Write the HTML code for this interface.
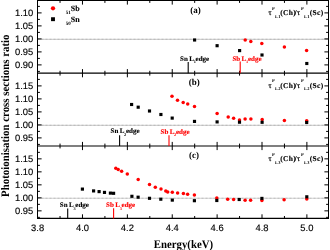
<!DOCTYPE html><html><head><meta charset="utf-8"><style>
.tl{font-family:"Liberation Sans",sans-serif;font-size:9.4px;fill:#000;stroke:#000;stroke-width:0.15px;}
.at{font-family:"Liberation Serif",serif;font-weight:bold;font-size:11px;fill:#000;}
.pl{font-family:"Liberation Serif",serif;font-weight:bold;font-size:9px;fill:#000;}
.leg{font-family:"Liberation Serif",serif;font-weight:bold;font-size:8px;fill:#000;stroke:#000;stroke-width:0.12px;}
.lsub{font-family:"Liberation Serif",serif;font-weight:bold;font-size:5px;fill:#000;}
.rl{font-family:"Liberation Serif",serif;font-weight:bold;font-size:7.5px;fill:#000;stroke:#000;stroke-width:0.12px;}
.tau{font-weight:normal;stroke:#000;stroke-width:0.25px;}
.sup,.sub{font-family:"Liberation Serif",serif;font-weight:bold;font-size:4.4px;fill:#000;}
.sub{letter-spacing:0.4px;}
.el{font-family:"Liberation Serif",serif;font-weight:bold;font-size:7px;}
.esub{font-family:"Liberation Serif",serif;font-weight:bold;font-size:4.3px;}
</style><style>html,body{margin:0;padding:0;background:#fff;}svg{display:block;will-change:transform;text-rendering:geometricPrecision;}</style></head><body><svg width="330" height="250" viewBox="0 0 330 250"><rect x="0" y="0" width="330" height="250" fill="#fff"/><line x1="37.5" y1="39.30" x2="328.5" y2="39.30" stroke="#d2d2d2" stroke-width="1.2"/><line x1="37.5" y1="39.30" x2="328.5" y2="39.30" stroke="#bebebe" stroke-width="1.2" stroke-dasharray="2 2"/><line x1="37.5" y1="125.30" x2="328.5" y2="125.30" stroke="#d2d2d2" stroke-width="1.2"/><line x1="37.5" y1="125.30" x2="328.5" y2="125.30" stroke="#bebebe" stroke-width="1.2" stroke-dasharray="2 2"/><line x1="37.5" y1="198.25" x2="328.5" y2="198.25" stroke="#d2d2d2" stroke-width="1.2"/><line x1="37.5" y1="198.25" x2="328.5" y2="198.25" stroke="#bebebe" stroke-width="1.2" stroke-dasharray="2 2"/><path d="M60.04 0.50L60.04 2.90M60.04 70.80L60.04 75.60M60.04 143.60L60.04 148.40M60.04 216.00L60.04 218.40M82.48 0.50L82.48 4.60M82.48 69.10L82.48 77.30M82.48 141.90L82.48 150.10M82.48 214.30L82.48 218.40M104.92 0.50L104.92 2.90M104.92 70.80L104.92 75.60M104.92 143.60L104.92 148.40M104.92 216.00L104.92 218.40M127.36 0.50L127.36 4.60M127.36 69.10L127.36 77.30M127.36 141.90L127.36 150.10M127.36 214.30L127.36 218.40M149.80 0.50L149.80 2.90M149.80 70.80L149.80 75.60M149.80 143.60L149.80 148.40M149.80 216.00L149.80 218.40M172.24 0.50L172.24 4.60M172.24 69.10L172.24 77.30M172.24 141.90L172.24 150.10M172.24 214.30L172.24 218.40M194.68 0.50L194.68 2.90M194.68 70.80L194.68 75.60M194.68 143.60L194.68 148.40M194.68 216.00L194.68 218.40M217.12 0.50L217.12 4.60M217.12 69.10L217.12 77.30M217.12 141.90L217.12 150.10M217.12 214.30L217.12 218.40M239.56 0.50L239.56 2.90M239.56 70.80L239.56 75.60M239.56 143.60L239.56 148.40M239.56 216.00L239.56 218.40M262.00 0.50L262.00 4.60M262.00 69.10L262.00 77.30M262.00 141.90L262.00 150.10M262.00 214.30L262.00 218.40M284.44 0.50L284.44 2.90M284.44 70.80L284.44 75.60M284.44 143.60L284.44 148.40M284.44 216.00L284.44 218.40M306.88 0.50L306.88 4.60M306.88 69.10L306.88 77.30M306.88 141.90L306.88 150.10M306.88 214.30L306.88 218.40M37.50 6.40L39.90 6.40M326.10 6.40L328.50 6.40M37.50 12.90L41.60 12.90M324.40 12.90L328.50 12.90M37.50 19.40L39.90 19.40M326.10 19.40L328.50 19.40M37.50 25.90L41.60 25.90M324.40 25.90L328.50 25.90M37.50 32.40L39.90 32.40M326.10 32.40L328.50 32.40M37.50 38.90L41.60 38.90M324.40 38.90L328.50 38.90M37.50 45.40L39.90 45.40M326.10 45.40L328.50 45.40M37.50 51.90L41.60 51.90M324.40 51.90L328.50 51.90M37.50 58.40L39.90 58.40M326.10 58.40L328.50 58.40M37.50 64.90L41.60 64.90M324.40 64.90L328.50 64.90M37.50 71.40L39.90 71.40M326.10 71.40L328.50 71.40M37.50 79.40L39.90 79.40M326.10 79.40L328.50 79.40M37.50 85.90L41.60 85.90M324.40 85.90L328.50 85.90M37.50 92.40L39.90 92.40M326.10 92.40L328.50 92.40M37.50 98.90L41.60 98.90M324.40 98.90L328.50 98.90M37.50 105.40L39.90 105.40M326.10 105.40L328.50 105.40M37.50 111.90L41.60 111.90M324.40 111.90L328.50 111.90M37.50 118.40L39.90 118.40M326.10 118.40L328.50 118.40M37.50 124.90L41.60 124.90M324.40 124.90L328.50 124.90M37.50 131.40L39.90 131.40M326.10 131.40L328.50 131.40M37.50 137.90L41.60 137.90M324.40 137.90L328.50 137.90M37.50 144.40L39.90 144.40M326.10 144.40L328.50 144.40M37.50 152.35L39.90 152.35M326.10 152.35L328.50 152.35M37.50 158.85L41.60 158.85M324.40 158.85L328.50 158.85M37.50 165.35L39.90 165.35M326.10 165.35L328.50 165.35M37.50 171.85L41.60 171.85M324.40 171.85L328.50 171.85M37.50 178.35L39.90 178.35M326.10 178.35L328.50 178.35M37.50 184.85L41.60 184.85M324.40 184.85L328.50 184.85M37.50 191.35L39.90 191.35M326.10 191.35L328.50 191.35M37.50 197.85L41.60 197.85M324.40 197.85L328.50 197.85M37.50 204.35L39.90 204.35M326.10 204.35L328.50 204.35M37.50 210.85L41.60 210.85M324.40 210.85L328.50 210.85M37.50 217.35L39.90 217.35M326.10 217.35L328.50 217.35" stroke="#000" stroke-width="1" fill="none"/><path d="M37.5 0V218.9M328.5 0V218.9M37.0 0.5H329.0" stroke="#000" stroke-width="1" fill="none"/><line x1="37.0" y1="218.4" x2="329.0" y2="218.4" stroke="#000" stroke-width="1.1"/><line x1="37.5" y1="73.2" x2="328.5" y2="73.2" stroke="#000" stroke-width="1.2"/><line x1="37.5" y1="146.0" x2="328.5" y2="146.0" stroke="#000" stroke-width="1.2"/><text x="33.2" y="15.90" text-anchor="end" class="tl">1.10</text><text x="33.2" y="28.90" text-anchor="end" class="tl">1.05</text><text x="33.2" y="41.90" text-anchor="end" class="tl">1.00</text><text x="33.2" y="54.90" text-anchor="end" class="tl">0.95</text><text x="33.2" y="67.90" text-anchor="end" class="tl">0.90</text><text x="33.2" y="88.90" text-anchor="end" class="tl">1.15</text><text x="33.2" y="101.90" text-anchor="end" class="tl">1.10</text><text x="33.2" y="114.90" text-anchor="end" class="tl">1.05</text><text x="33.2" y="127.90" text-anchor="end" class="tl">1.00</text><text x="33.2" y="140.90" text-anchor="end" class="tl">0.95</text><text x="33.2" y="161.85" text-anchor="end" class="tl">1.15</text><text x="33.2" y="174.85" text-anchor="end" class="tl">1.10</text><text x="33.2" y="187.85" text-anchor="end" class="tl">1.05</text><text x="33.2" y="200.85" text-anchor="end" class="tl">1.00</text><text x="33.2" y="213.85" text-anchor="end" class="tl">0.95</text><text x="37.60" y="231.3" text-anchor="middle" class="tl">3.8</text><text x="82.48" y="231.3" text-anchor="middle" class="tl">4.0</text><text x="127.36" y="231.3" text-anchor="middle" class="tl">4.2</text><text x="172.24" y="231.3" text-anchor="middle" class="tl">4.4</text><text x="217.12" y="231.3" text-anchor="middle" class="tl">4.6</text><text x="262.00" y="231.3" text-anchor="middle" class="tl">4.8</text><text x="306.88" y="231.3" text-anchor="middle" class="tl">5.0</text><circle cx="245.20" cy="40.00" r="1.75" fill="#f00"/><circle cx="250.80" cy="41.40" r="1.75" fill="#f00"/><circle cx="261.80" cy="43.40" r="1.75" fill="#f00"/><circle cx="284.40" cy="47.00" r="1.75" fill="#f00"/><circle cx="306.60" cy="50.50" r="1.75" fill="#f00"/><rect x="193.03" y="38.42" width="3.15" height="3.15" fill="#000"/><rect x="215.53" y="44.12" width="3.15" height="3.15" fill="#000"/><rect x="238.03" y="49.02" width="3.15" height="3.15" fill="#000"/><rect x="260.43" y="53.42" width="3.15" height="3.15" fill="#000"/><rect x="305.23" y="61.92" width="3.15" height="3.15" fill="#000"/><circle cx="172.00" cy="96.30" r="1.75" fill="#f00"/><circle cx="177.50" cy="100.20" r="1.75" fill="#f00"/><circle cx="183.20" cy="102.50" r="1.75" fill="#f00"/><circle cx="187.70" cy="103.90" r="1.75" fill="#f00"/><circle cx="194.50" cy="106.50" r="1.75" fill="#f00"/><circle cx="217.10" cy="113.60" r="1.75" fill="#f00"/><circle cx="228.20" cy="117.10" r="1.75" fill="#f00"/><circle cx="233.60" cy="118.20" r="1.75" fill="#f00"/><circle cx="239.50" cy="120.00" r="1.75" fill="#f00"/><circle cx="245.10" cy="119.10" r="1.75" fill="#f00"/><circle cx="250.90" cy="119.10" r="1.75" fill="#f00"/><circle cx="262.20" cy="119.50" r="1.75" fill="#f00"/><circle cx="284.40" cy="120.60" r="1.75" fill="#f00"/><circle cx="306.70" cy="120.80" r="1.75" fill="#f00"/><rect x="130.03" y="102.92" width="3.15" height="3.15" fill="#000"/><rect x="136.62" y="105.62" width="3.15" height="3.15" fill="#000"/><rect x="147.93" y="109.42" width="3.15" height="3.15" fill="#000"/><rect x="159.33" y="112.92" width="3.15" height="3.15" fill="#000"/><rect x="170.62" y="116.52" width="3.15" height="3.15" fill="#000"/><rect x="192.93" y="119.83" width="3.15" height="3.15" fill="#000"/><rect x="215.53" y="120.33" width="3.15" height="3.15" fill="#000"/><rect x="237.93" y="120.62" width="3.15" height="3.15" fill="#000"/><rect x="260.53" y="120.72" width="3.15" height="3.15" fill="#000"/><rect x="305.12" y="120.92" width="3.15" height="3.15" fill="#000"/><circle cx="115.80" cy="168.20" r="1.75" fill="#f00"/><circle cx="118.20" cy="169.50" r="1.75" fill="#f00"/><circle cx="121.60" cy="171.30" r="1.75" fill="#f00"/><circle cx="127.30" cy="174.00" r="1.75" fill="#f00"/><circle cx="138.20" cy="179.50" r="1.75" fill="#f00"/><circle cx="149.50" cy="184.50" r="1.75" fill="#f00"/><circle cx="155.30" cy="187.20" r="1.75" fill="#f00"/><circle cx="161.00" cy="188.90" r="1.75" fill="#f00"/><circle cx="165.80" cy="191.00" r="1.75" fill="#f00"/><circle cx="167.70" cy="191.90" r="1.75" fill="#f00"/><circle cx="172.30" cy="192.30" r="1.75" fill="#f00"/><circle cx="177.60" cy="193.10" r="1.75" fill="#f00"/><circle cx="183.40" cy="193.60" r="1.75" fill="#f00"/><circle cx="187.60" cy="194.20" r="1.75" fill="#f00"/><circle cx="194.40" cy="195.10" r="1.75" fill="#f00"/><circle cx="216.80" cy="198.10" r="1.75" fill="#f00"/><circle cx="227.70" cy="199.20" r="1.75" fill="#f00"/><circle cx="233.60" cy="199.40" r="1.75" fill="#f00"/><circle cx="245.10" cy="200.20" r="1.75" fill="#f00"/><circle cx="250.60" cy="200.20" r="1.75" fill="#f00"/><circle cx="261.90" cy="200.50" r="1.75" fill="#f00"/><circle cx="284.10" cy="199.80" r="1.75" fill="#f00"/><circle cx="306.80" cy="199.10" r="1.75" fill="#f00"/><rect x="80.83" y="187.53" width="3.15" height="3.15" fill="#000"/><rect x="92.02" y="189.33" width="3.15" height="3.15" fill="#000"/><rect x="97.52" y="190.03" width="3.15" height="3.15" fill="#000"/><rect x="102.92" y="190.83" width="3.15" height="3.15" fill="#000"/><rect x="108.83" y="191.53" width="3.15" height="3.15" fill="#000"/><rect x="112.02" y="191.73" width="3.15" height="3.15" fill="#000"/><rect x="130.33" y="194.73" width="3.15" height="3.15" fill="#000"/><rect x="136.53" y="195.62" width="3.15" height="3.15" fill="#000"/><rect x="147.93" y="196.73" width="3.15" height="3.15" fill="#000"/><rect x="159.23" y="197.62" width="3.15" height="3.15" fill="#000"/><rect x="170.73" y="198.53" width="3.15" height="3.15" fill="#000"/><rect x="192.83" y="199.12" width="3.15" height="3.15" fill="#000"/><rect x="215.23" y="198.93" width="3.15" height="3.15" fill="#000"/><rect x="237.62" y="197.93" width="3.15" height="3.15" fill="#000"/><rect x="260.32" y="196.83" width="3.15" height="3.15" fill="#000"/><rect x="305.23" y="195.23" width="3.15" height="3.15" fill="#000"/><circle cx="53.00" cy="8.30" r="2.15" fill="#f00"/><rect x="51.05" y="17.25" width="3.9" height="3.9" fill="#000"/><text x="65.7" y="13.9" class="lsub">51</text><text x="70.7" y="10.8" class="leg">Sb</text><text x="65.7" y="24.8" class="lsub">50</text><text x="70.7" y="21.6" class="leg">Sn</text><text x="190.2" y="12.7" class="pl">(a)</text><text x="188.8" y="84.6" class="pl">(b)</text><text x="189.0" y="157.8" class="pl">(c)</text><text y="14.9" class="rl"><tspan x="268.5" class="tau">τ</tspan><tspan x="280.2" style="letter-spacing:0.35px">(Ch)</tspan><tspan x="294.4">/</tspan><tspan x="296.9" class="tau">τ</tspan><tspan x="309.8" style="letter-spacing:0.3px">(Sc)</tspan></text><text y="9.5" class="sup"><tspan x="272.1">P</tspan><tspan x="301.1">P</tspan></text><text y="17.5" class="sub"><tspan x="275.0">L1</tspan><tspan x="304.0">L1</tspan></text><text y="87.8" class="rl"><tspan x="268.5" class="tau">τ</tspan><tspan x="280.2" style="letter-spacing:0.35px">(Ch)</tspan><tspan x="294.4">/</tspan><tspan x="296.9" class="tau">τ</tspan><tspan x="309.8" style="letter-spacing:0.3px">(Sc)</tspan></text><text y="82.4" class="sup"><tspan x="272.1">P</tspan><tspan x="301.1">P</tspan></text><text y="90.4" class="sub"><tspan x="275.0">L2</tspan><tspan x="304.0">L2</tspan></text><text y="161.0" class="rl"><tspan x="268.5" class="tau">τ</tspan><tspan x="280.2" style="letter-spacing:0.35px">(Ch)</tspan><tspan x="294.4">/</tspan><tspan x="296.9" class="tau">τ</tspan><tspan x="309.8" style="letter-spacing:0.3px">(Sc)</tspan></text><text y="155.6" class="sup"><tspan x="272.1">P</tspan><tspan x="301.1">P</tspan></text><text y="163.6" class="sub"><tspan x="275.0">L3</tspan><tspan x="304.0">L3</tspan></text><line x1="188.2" y1="62.1" x2="188.2" y2="73.2" stroke="#000" stroke-width="1.1"/><text y="60.8" class="el" fill="#000" stroke="#000" stroke-width="0.12"><tspan x="180.1">Sn</tspan><tspan x="189.3">L</tspan><tspan x="195.6">edge</tspan></text><text x="193.7" y="63.2" class="esub" fill="#000">1</text><line x1="240.2" y1="61.6" x2="240.2" y2="73.2" stroke="#f00" stroke-width="1.1"/><text y="60.8" class="el" fill="#f00" stroke="#f00" stroke-width="0.12"><tspan x="232.4">Sb</tspan><tspan x="241.6">L</tspan><tspan x="247.9">edge</tspan></text><text x="246.0" y="63.2" class="esub" fill="#f00">1</text><line x1="119.6" y1="135.2" x2="119.6" y2="146.0" stroke="#000" stroke-width="1.1"/><text y="133.4" class="el" fill="#000" stroke="#000" stroke-width="0.12"><tspan x="110.5">Sn</tspan><tspan x="119.7">L</tspan><tspan x="126.0">edge</tspan></text><text x="124.1" y="135.8" class="esub" fill="#000">2</text><line x1="169.0" y1="135.2" x2="169.0" y2="146.0" stroke="#f00" stroke-width="1.1"/><text y="133.5" class="el" fill="#f00" stroke="#f00" stroke-width="0.12"><tspan x="160.5">Sb</tspan><tspan x="169.7">L</tspan><tspan x="176.0">edge</tspan></text><text x="174.1" y="135.9" class="esub" fill="#f00">2</text><line x1="67.7" y1="208.6" x2="67.7" y2="218.4" stroke="#000" stroke-width="1.1"/><text y="207.1" class="el" fill="#000" stroke="#000" stroke-width="0.12"><tspan x="59.8">Sn</tspan><tspan x="69.0">L</tspan><tspan x="75.3">edge</tspan></text><text x="73.4" y="209.5" class="esub" fill="#000">3</text><line x1="113.6" y1="208.3" x2="113.6" y2="218.4" stroke="#f00" stroke-width="1.1"/><text y="207.3" class="el" fill="#f00" stroke="#f00" stroke-width="0.12"><tspan x="106.1">Sb</tspan><tspan x="115.3">L</tspan><tspan x="121.6">edge</tspan></text><text x="119.7" y="209.7" class="esub" fill="#f00">3</text><text transform="translate(183.45,247.6) scale(0.98,1.06)" text-anchor="middle" class="at">Energy(keV)</text><text transform="translate(8.7,115.7) rotate(-90) scale(1,1.05)" text-anchor="middle" class="at" style="font-size:10.87px">Photoionisation cross sections ratio</text></svg></body></html>
